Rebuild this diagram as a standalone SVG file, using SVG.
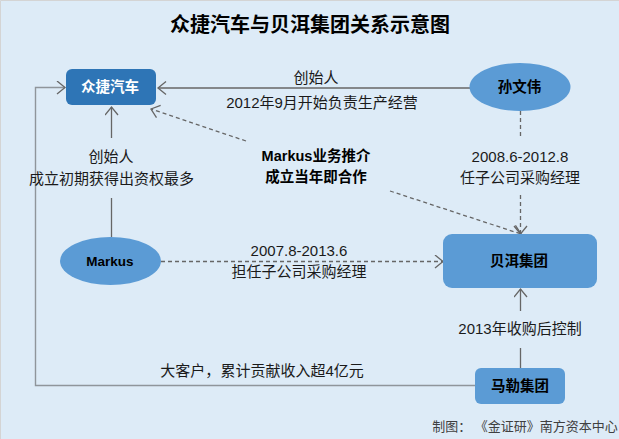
<svg xmlns="http://www.w3.org/2000/svg" width="619" height="439" viewBox="0 0 619 439">
<style>
text{font-family:"Liberation Sans","Noto Sans CJK SC",sans-serif;text-anchor:middle;fill:#1a1a1a}
.l{font-size:15px}
.b{font-weight:700;fill:#000;font-size:14.500px}
.w{font-weight:700;fill:#fff;font-size:14.500px}
.c{fill:none;stroke:#666;stroke-width:1.300}
.d{stroke-dasharray:4 3}
.f{fill:#5b9bd5}
</style>
<defs><marker id="a" markerUnits="userSpaceOnUse" markerWidth="14" markerHeight="16" refX="11" refY="7" orient="auto"><path d="M3 0.500L11 7L3 13.500" fill="none" stroke="#666" stroke-width="1.300"/></marker></defs>
<rect width="619" height="439" fill="#ddebf7"/>
<path d="M0.500 439V0.500H619" fill="none" stroke="#d4d4d4"/>
<text x="310" y="32" font-size="20" font-weight="700" style="fill:#000">众捷汽车与贝洱集团关系示意图</text>
<g id="connectors">
<path class="c" d="M470 88H158" marker-end="url(#a)"/>
<path class="c" d="M111.500 138V107" marker-end="url(#a)"/>
<path class="c" d="M111.500 198V237"/>
<path class="c d" d="M246 141L151 109" marker-end="url(#a)"/>
<path class="c d" d="M390 191L521 234" marker-end="url(#a)"/>
<path class="c d" d="M520.500 111V137"/>
<path class="c d" d="M520.500 195V234" marker-end="url(#a)"/>
<path class="c d" d="M161 261.500H443" marker-end="url(#a)"/>
<path class="c" d="M520.500 311V289" marker-end="url(#a)"/>
<path class="c" d="M520.500 348V368"/>
<path d="M475 385.500H35.500V87.500H65" fill="none" stroke="#8f959b" stroke-width="1.400" marker-end="url(#a)"/>
</g>
<g id="zhongjie"><rect x="66" y="69" width="90" height="36" rx="6" fill="#2e75b6"/><text class="w" x="110" y="92">众捷汽车</text></g>
<g id="sunwenwei"><ellipse class="f" cx="520" cy="87" rx="50.500" ry="24"/><text class="b" x="519.500" y="92">孙文伟</text></g>
<g id="markus"><ellipse class="f" cx="110.500" cy="261" rx="50.500" ry="24"/><text class="b" x="110" y="266" style="font-size:13.500px">Markus</text></g>
<g id="beier"><rect x="443" y="234" width="154" height="54" rx="9" class="f"/><text class="b" x="519" y="266">贝洱集团</text></g>
<g id="male"><rect x="475" y="368" width="90" height="36" rx="6" class="f"/><text class="b" x="520" y="391">马勒集团</text></g>
<g id="labels">
<text class="l" x="316" y="83">创始人</text>
<text class="l" x="322" y="108">2012年9月开始负责生产经营</text>
<text class="l" x="111" y="162">创始人</text>
<text class="l" x="111.500" y="184">成立初期获得出资权最多</text>
<text class="b" x="316" y="161">Markus业务推介</text>
<text class="b" x="316" y="182">成立当年即合作</text>
<text class="l" x="520" y="162">2008.6-2012.8</text>
<text class="l" x="520" y="183">任子公司采购经理</text>
<text class="l" x="299" y="256">2007.8-2013.6</text>
<text class="l" x="299" y="277">担任子公司采购经理</text>
<text class="l" x="520" y="334">2013年收购后控制</text>
<text class="l" x="262" y="376" style="word-spacing:-4px">大客户， 累计贡献收入超4亿元</text>
<text x="525" y="431" font-size="13" style="fill:#404040">制图： 《金证研》南方资本中心</text>
</g>
</svg>
